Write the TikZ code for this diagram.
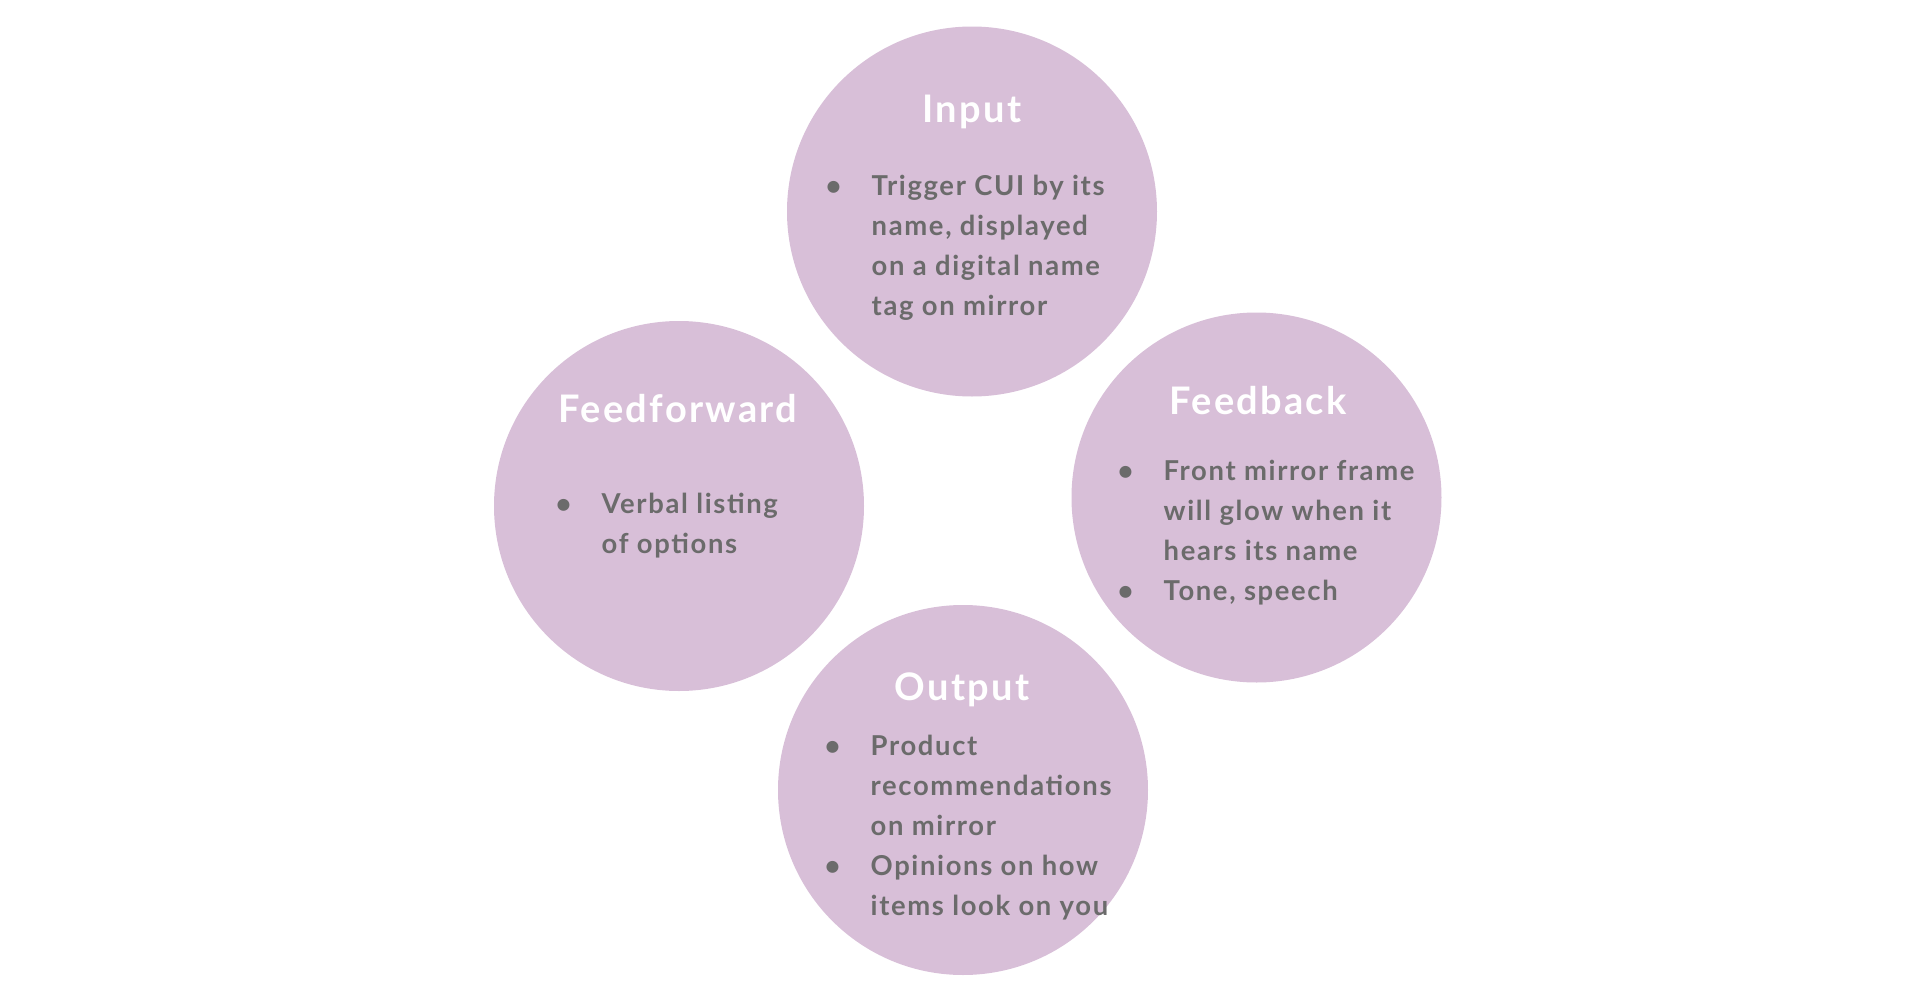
\documentclass[tikz,border=0pt]{standalone}
\usepackage{fontspec}
\setmainfont{Lato}[UprightFont=* Bold, LetterSpace=6]
\usepackage{tikz}
\definecolor{bubblefill}{HTML}{D8BFD8}
\definecolor{bodygray}{HTML}{6B6B6B}
\newcommand{\bul}{\makebox[0.46cm][l]{•}}
\newcommand{\ind}{\hspace*{0.46cm}}

\begin{document}
\begin{tikzpicture}[bubble/.style={circle, fill=bubblefill, minimum size=3.70cm, inner sep=0},
  head/.style={anchor=base, text=white, font=\fontsize{10.8}{12}\selectfont, inner sep=0},
  body/.style={anchor=base west, align=left, text=bodygray, font=\fontsize{7.8}{11.4}\selectfont, inner sep=0}]
\useasboundingbox (0,0) rectangle (19.24,10.06);
% body nodes are placed at the baseline of their last line
\node[bubble] (in) at (9.72,7.945) {}; \node[head] (inh) at (9.72,8.84) {Input};
\node[body] (inb) at (8.25,6.904) {\bul Trigger CUI by its\\ \ind name, displayed\\ \ind on a digital name\\ \ind tag on mirror};
\node[bubble] (ff) at (6.79,5.00) {}; \node[head] (ffh) at (6.78,5.84) {Feedforward};
\node[body] (ffb) at (5.55,4.528) {\bul Verbal listing\\ \ind of options};
\node[bubble] (fb) at (12.565,5.085) {}; \node[head] (fbh) at (12.58,5.92) {Feedback};
\node[body] (fbb) at (11.17,4.054) {\bul Front mirror frame\\ \ind will glow when it\\ \ind hears its name\\ \bul Tone, speech};
\node[bubble] (out) at (9.63,2.16) {}; \node[head] (outh) at (9.62,3.06) {Output};
\node[body] (outb) at (8.24,0.902) {\bul Product\\ \ind recommendations\\ \ind on mirror\\ \bul Opinions on how\\ \ind items look on you};
\end{tikzpicture}
\end{document}
